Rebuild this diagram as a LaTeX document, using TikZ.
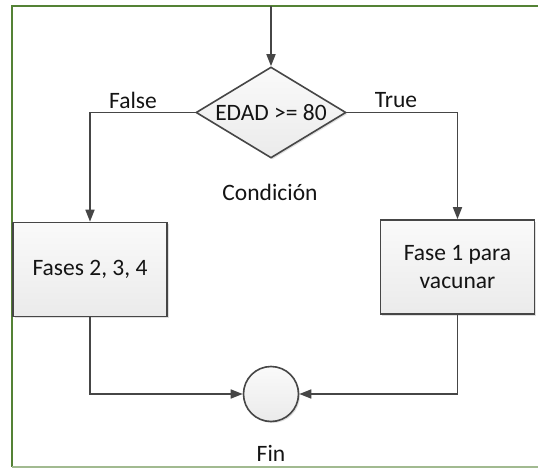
\documentclass[tikz,border=0pt]{standalone}
\usepackage{fontspec}
\setmainfont{Carlito}
\usetikzlibrary{arrows.meta,shapes.geometric,shadows}
\definecolor{frame}{RGB}{84,130,53}
\definecolor{ln}{RGB}{70,70,70}
\definecolor{txt}{RGB}{20,20,20}
\tikzset{
  x=1pt,y=-1pt,
  every node/.style={font=\fontsize{23.5}{27}\selectfont,text=txt},
  shp/.style={draw=ln,line width=1.6pt,top color=gray!4,bottom color=gray!16,
     drop shadow={shadow xshift=1.5pt,shadow yshift=-1.5pt,opacity=0.25}},
  procbox/.style={shp,rectangle,minimum width=154pt,minimum height=94pt,inner sep=0pt,align=center},
  decbox/.style={shp,diamond,minimum width=150pt,minimum height=91pt,inner sep=0pt,aspect=1.65},
  endbox/.style={shp,circle,minimum size=55pt,inner sep=0pt},
  conn/.style={draw=ln,line width=1.6pt,-{Triangle[length=12pt,width=9pt]}},
  lbl/.style={inner sep=0pt}
}
\begin{document}
\begin{tikzpicture}
\useasboundingbox (0,0) rectangle (538,468);
\clip (0,0) rectangle (538,468);
\fill[white] (0,0) rectangle (538,468);
\draw[frame,line width=2.5pt] (560,6) -- (12,6) -- (12,467);
\draw[frame!55,line width=1.5pt] (12,467) -- (560,467);

\coordinate (start) at (271,6);
\node[decbox] (cond) at (271,112.5) {EDAD >= 80};
\node[procbox] (left) at (90,269.5) {Fases 2, 3, 4};
\node[procbox] (right) at (457.5,267) {Fase 1 para\\[1pt]vacunar};
\node[endbox] (fin) at (271,394) {};

\node[lbl] (lf) at (133,100) {False};
\node[lbl] (lt) at (396,100) {True};
\node[lbl] (lc) at (270,192) {Condición};
\node[lbl] (lfin) at (271,453) {Fin};

\draw[conn] (start) -- (cond.north);
\draw[conn] (cond.west) -| (left.north);
\draw[conn] (cond.east) -| (right.north);
\draw[conn] (left.south) |- (fin.west);
\draw[conn] (right.south) |- (fin.east);
\end{tikzpicture}
\end{document}
